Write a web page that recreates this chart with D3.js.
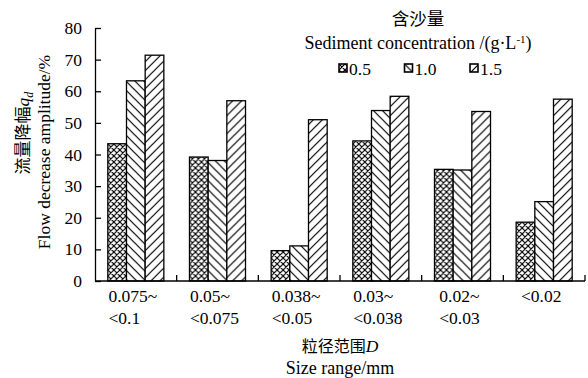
<!DOCTYPE html>
<html><head><meta charset="utf-8">
<script src="https://cdn.jsdelivr.net/npm/d3@7"></script>
<style>
body{margin:0;background:#fff;}
text{font-family:"Liberation Serif","Times New Roman","Noto Sans CJK SC",serif;fill:#000;}
</style></head>
<body>
<svg id="c" width="588" height="378"></svg>
<script>
const categories = [["0.075~","<0.1"],["0.05~","<0.075"],["0.038~","<0.05"],["0.03~","<0.038"],["0.02~","<0.03"],["<0.02"]];
const seriesNames = ["0.5","1.0","1.5"];
const s05 = [43.4, 39.2, 9.6, 44.3, 35.3, 18.6];
const s10 = [63.3, 38.1, 11.1, 53.9, 35.1, 25.1];
const s15 = [71.4, 57.0, 51.0, 58.4, 53.6, 57.5];
const yTicks = [0,10,20,30,40,50,60,70,80];
const seriesValues = [s05, s10, s15];

const svg = d3.select("#c");
const W = 588, H = 378;
const m = {l:95, r:3, t:28, b:97};
const x0 = d3.scaleBand().domain(d3.range(categories.length)).range([m.l, W - m.r]).padding(0);
const groupW = x0.bandwidth() * 0.686;
const x1 = d3.scaleBand().domain(d3.range(seriesNames.length)).range([0, groupW]).padding(0);
const y = d3.scaleLinear().domain([0, 80]).range([H - m.b, m.t]);

// patterns
const defs = svg.append("defs");
function pat(id, size, d){
  const p = defs.append("pattern").attr("id", id).attr("patternUnits","userSpaceOnUse")
    .attr("width", size).attr("height", size);
  p.append("rect").attr("width", size).attr("height", size).attr("fill","#fff");
  p.append("path").attr("d", d).attr("stroke","#000").attr("stroke-width",1.2).attr("fill","none");
}
pat("p0", 6, "M0,0L6,6M-1,5l2,2M5,-1l2,2M0,6L6,0M-1,1l2,-2M5,7l2,-2");
pat("p1", 9, "M0,0L9,9M-1,8l2,2M8,-1l2,2");
pat("p2", 9, "M0,9L9,0M-1,1l2,-2M8,10l2,-2");
const fills = ["url(#p0)","url(#p1)","url(#p2)"];

// bars
const groups = svg.append("g").selectAll("g").data(categories).join("g")
  .attr("transform", (d,i) => `translate(${x0(i) + (x0.bandwidth() - groupW)/2},0)`);
groups.selectAll("rect").data((d,i) => seriesValues.map((s,j) => ({v:s[i], j})))
  .join("rect")
  .attr("x", d => x1(d.j)).attr("width", x1.bandwidth())
  .attr("y", d => y(d.v)).attr("height", d => y(0) - y(d.v))
  .attr("fill", d => fills[d.j]).attr("stroke","#000").attr("stroke-width",1.3);

// y axis
const yAxis = svg.append("g").attr("transform", `translate(${m.l},0)`)
  .call(d3.axisLeft(y).tickValues(yTicks).tickSizeInner(-6).tickSizeOuter(0).tickPadding(13));
yAxis.select(".domain").attr("stroke","#000").attr("stroke-width",1.3);
yAxis.selectAll(".tick line").attr("stroke","#000").attr("stroke-width",1.3);
yAxis.selectAll(".tick text").attr("font-size","17.5px").attr("font-family",null);

// x axis
const xAxis = svg.append("g").attr("transform", `translate(0,${y(0)})`);
xAxis.append("line").attr("x1", m.l).attr("x2", W - m.r).attr("stroke","#000").attr("stroke-width",1.3);
const bounds = d3.range(categories.length + 1).map(i => i < categories.length ? x0(i) : x0(i-1) + x0.bandwidth());
xAxis.selectAll("line.tk").data(bounds.slice(1)).join("line").attr("class","tk")
  .attr("x1", d => d).attr("x2", d => d).attr("y1", 0).attr("y2", -6)
  .attr("stroke","#000").attr("stroke-width",1.3);
categories.forEach((lines, i) => {
  const t = xAxis.append("text").attr("font-size","17.5px");
  lines.forEach((ln, k) => t.append("tspan").attr("y", 21 + k*21.5).text(ln));
  const w = d3.max(t.selectAll("tspan").nodes(), n => n.getComputedTextLength());
  const left = x0(i) + x0.bandwidth()/2 - w/2 - 3;
  t.selectAll("tspan").attr("x", left);
});

// axis titles
const cx = (m.l + W - m.r) / 2;
svg.append("text").attr("x", cx).attr("y", 352).attr("text-anchor","middle").attr("font-size","16px")
  .call(t => { t.append("tspan").text("粒径范围"); t.append("tspan").attr("font-style","italic").attr("font-size","17.5px").text("D"); });
svg.append("text").attr("x", cx).attr("y", 373.5).attr("text-anchor","middle").attr("font-size","18px").text("Size range/mm");

svg.append("text").attr("transform","translate(29,133) rotate(-90)").attr("text-anchor","middle").attr("font-size","17px")
  .call(t => {
    t.append("tspan").text("流量降幅");
    t.append("tspan").attr("font-style","italic").attr("font-size","17.5px").text("q");
    t.append("tspan").attr("font-style","italic").attr("font-size","12px").attr("dy",4).text("d");
  });
svg.append("text").attr("transform","translate(50,152) rotate(-90)").attr("text-anchor","middle").attr("font-size","17.5px")
  .text("Flow decrease amplitude/%");

// legend
svg.append("text").attr("x", 418).attr("y", 25).attr("text-anchor","middle").attr("font-size","17.5px").text("含沙量");
svg.append("text").attr("x", 418).attr("y", 49).attr("text-anchor","middle").attr("font-size","18px")
  .call(t => {
    t.append("tspan").text("Sediment concentration /(g·L");
    t.append("tspan").attr("font-size","11px").attr("dy",-6).text("-1");
    t.append("tspan").attr("dy",6).text(")");
  });
const leg = svg.append("g").selectAll("g").data(seriesNames).join("g")
  .attr("transform", (d,i) => `translate(${339 + i*65.5},64)`);
leg.append("rect").attr("width",8).attr("height",8).attr("fill",(d,i)=>fills[i]).attr("stroke","#000").attr("stroke-width",1.6);
leg.append("text").attr("x",10).attr("y",10.5).attr("font-size","17.5px").text(d => d);
</script>
</body></html>
